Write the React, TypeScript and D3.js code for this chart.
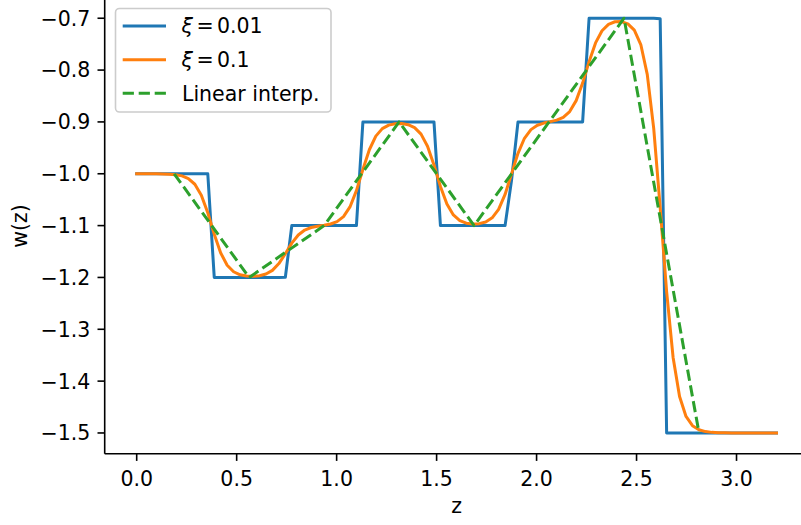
import React from "react";
import * as d3 from "d3";

// ---- data ----
const binEdges = [0.375, 0.75, 1.125, 1.5, 1.875, 2.25, 2.625];
const binCenters = [0.1875, 0.5625, 0.9375, 1.3125, 1.6875, 2.0625, 2.4375, 2.8125];
const binValues = [-1.0, -1.2, -1.1, -0.9, -1.1, -0.9, -0.7, -1.5];
const zStart = 0;
const zEnd = 3.2;
const nSamples = 100;
const seriesLabels = ["\u03be = 0.01", "\u03be = 0.1", "Linear interp."];
const xiText = ["0.01", "0.1"];
const smoothWidths = [0.002, 0.077]; // effective tanh widths
const xTicks = [0.0, 0.5, 1.0, 1.5, 2.0, 2.5, 3.0];
const yTicks = [-1.5, -1.4, -1.3, -1.2, -1.1, -1.0, -0.9, -0.8, -0.7];
const colors = ["#1f77b4", "#ff7f0e", "#2ca02c"];

const W = 801;
const H = 525;
const FS = 20.5;
const FONT = "DejaVu Sans, Liberation Sans, sans-serif";
const LW = 3.0;
const DASH = "11.2,4.8";

const zGrid = d3.range(nSamples).map((i) => zStart + (i * (zEnd - zStart)) / (nSamples - 1));

function smoothStep(z: number, s: number): number {
  let w = binValues[0];
  for (let i = 0; i < binEdges.length; i++) {
    const dw = binValues[i + 1] - binValues[i];
    w += (dw * (1 + Math.tanh((z - binEdges[i]) / s))) / 2;
  }
  return w;
}

export default function App() {
  const x = d3.scaleLinear().domain([-0.16, 3.36]).range([104.7, 808.5]);
  const y = d3.scaleLinear().domain([-1.54, -0.66]).range([453.7, -2.5]);

  const line = d3
    .line<[number, number]>()
    .x((d) => x(d[0]))
    .y((d) => y(d[1]));

  const blue: [number, number][] = zGrid.map((z) => [z, smoothStep(z, smoothWidths[0])]);
  const orange: [number, number][] = zGrid.map((z) => [z, smoothStep(z, smoothWidths[1])]);
  const green: [number, number][] = binCenters.map((c, i) => [c, binValues[i]]);

  const fmtY = (v: number) => (v < 0 ? "\u2212" : "") + Math.abs(v).toFixed(1);
  const x0 = 104.7;
  const yB = 453.7;

  const legendRows = [26, 59.7, 93.3];

  return (
    <svg
      width={W}
      height={H}
      style={{ position: "absolute", left: 0, top: 0, background: "#fff" }}
      fontFamily={FONT}
    >
      <rect x={0} y={0} width={W} height={H} fill="#fff" />
      {/* data */}
      <path d={line(blue) || ""} fill="none" stroke={colors[0]} strokeWidth={LW} strokeLinejoin="round" strokeLinecap="square" />
      <path d={line(orange) || ""} fill="none" stroke={colors[1]} strokeWidth={LW} strokeLinejoin="round" strokeLinecap="square" />
      <path d={line(green) || ""} fill="none" stroke={colors[2]} strokeWidth={LW} strokeDasharray={DASH} strokeLinejoin="round" />

      {/* spines */}
      <line x1={x0} x2={x0} y1={0} y2={yB} stroke="#000" strokeWidth={1.6} />
      <line x1={x0} x2={W} y1={yB} y2={yB} stroke="#000" strokeWidth={1.6} />

      {/* y ticks */}
      {yTicks.map((t) => (
        <g key={"y" + t}>
          <line x1={x0 - 7.2} x2={x0} y1={y(t)} y2={y(t)} stroke="#000" strokeWidth={1.6} />
          <text x={x0 - 14.4} y={y(t) + 7.4} textAnchor="end" fontSize={FS} fill="#000">
            {fmtY(t)}
          </text>
        </g>
      ))}
      {/* x ticks */}
      {xTicks.map((t) => (
        <g key={"x" + t}>
          <line x1={x(t)} x2={x(t)} y1={yB} y2={yB + 7.2} stroke="#000" strokeWidth={1.6} />
          <text x={x(t)} y={485.7} textAnchor="middle" fontSize={FS} fill="#000">
            {t.toFixed(1)}
          </text>
        </g>
      ))}

      {/* axis labels */}
      <text x={456.6} y={513.3} textAnchor="middle" fontSize={FS} fill="#000">
        z
      </text>
      <text
        transform={`translate(27,226) rotate(-90)`}
        textAnchor="middle"
        fontSize={FS}
        fill="#000"
      >
        w(z)
      </text>

      {/* legend */}
      <rect x={115.5} y={8.5} width={215.5} height={103.5} rx={4} ry={4} fill="#fff" fillOpacity={0.8} stroke="#cccccc" strokeWidth={1.6} />
      {legendRows.map((ly, i) => (
        <g key={"lg" + i}>
          <line
            x1={122.7}
            x2={166}
            y1={ly}
            y2={ly}
            stroke={colors[i]}
            strokeWidth={LW}
            strokeDasharray={i === 2 ? DASH : undefined}
          />
          {i < 2 ? (
            <text y={ly + 7.3} fontSize={FS} fill="#000">
              <tspan x={181.5} fontStyle="italic">{"\u03be"}</tspan>
              <tspan x={196.5}>=</tspan>
              <tspan x={217}>{xiText[i]}</tspan>
            </text>
          ) : (
            <text x={182} y={ly + 7.3} fontSize={FS} fill="#000">
              {seriesLabels[2]}
            </text>
          )}
        </g>
      ))}
    </svg>
  );
}
